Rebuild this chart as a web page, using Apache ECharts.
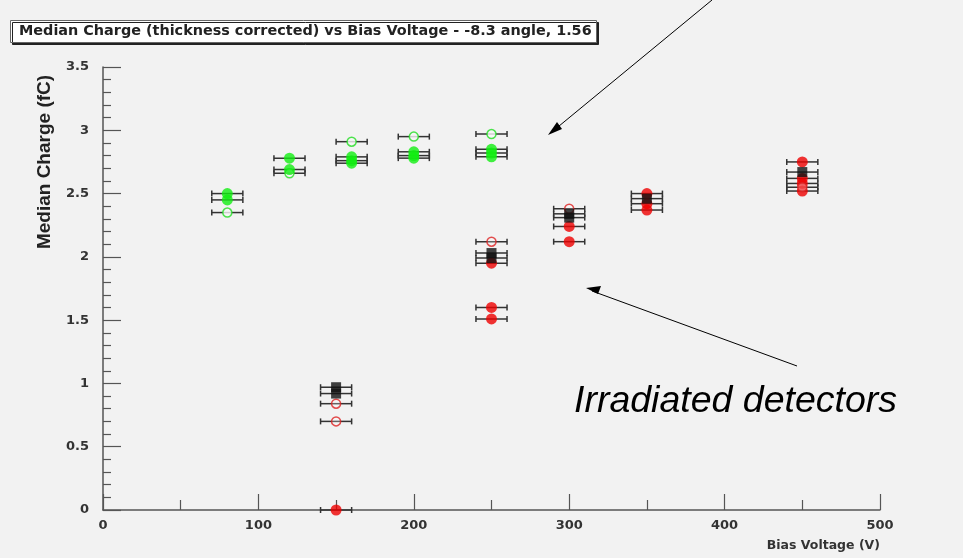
<!DOCTYPE html>
<html>
<head>
<meta charset="utf-8">
<script src="https://cdn.jsdelivr.net/npm/echarts@6/dist/echarts.min.js"></script>
<style>
  html, body { margin: 0; padding: 0; background: #f2f2f2; }
  #main { width: 963px; height: 558px; }
</style>
</head>
<body>
<div id="main"></div>
<script>
// 数据：偏压 (V) 与中值电荷 (fC)
var greenFilled = [[80, 2.50], [80, 2.45], [120, 2.78], [120, 2.69], [160, 2.79], [160, 2.76], [160, 2.74],
    [200, 2.83], [200, 2.80], [200, 2.78], [250, 2.85], [250, 2.82], [250, 2.79]];
var greenOpen = [[80, 2.35], [120, 2.66], [160, 2.91], [200, 2.95], [250, 2.97]];
var redFilled = [[150, 0.0], [250, 1.95], [250, 1.60], [250, 1.51], [300, 2.24], [300, 2.12],
    [350, 2.50], [350, 2.42], [350, 2.37], [450, 2.75], [450, 2.62], [450, 2.58], [450, 2.52]];
var redOpen = [[150, 0.84], [150, 0.70], [250, 2.12], [300, 2.38], [450, 2.55]];
var blackSquares = [[150, 0.97], [150, 0.92], [250, 2.03], [250, 1.99], [300, 2.34], [300, 2.31],
    [350, 2.46], [450, 2.67]];
var biasErr = 10; // 横向误差 ±10 V
var xTicks = [0, 100, 200, 300, 400, 500];
var yTicks = [0, 0.5, 1, 1.5, 2, 2.5, 3, 3.5];

var allPoints = [].concat(greenOpen, greenFilled, redFilled, redOpen, blackSquares);

var myChart = echarts.init(document.getElementById('main'));

var labelFont = {
    color: '#333',
    fontFamily: 'DejaVu Sans',
    fontWeight: 'bold',
    fontSize: 13
};

function errorBar(params, api) {
    var y = api.value(1);
    var p1 = api.coord([api.value(0) - biasErr, y]);
    var p2 = api.coord([api.value(0) + biasErr, y]);
    var cap = 3;
    var style = {stroke: '#333', lineWidth: 1.5};
    return {
        type: 'group',
        children: [
            {type: 'line', shape: {x1: p1[0], y1: p1[1], x2: p2[0], y2: p2[1]}, style: style},
            {type: 'line', shape: {x1: p1[0], y1: p1[1] - cap, x2: p1[0], y2: p1[1] + cap}, style: style},
            {type: 'line', shape: {x1: p2[0], y1: p2[1] - cap, x2: p2[0], y2: p2[1] + cap}, style: style}
        ]
    };
}

var option = {
    backgroundColor: '#f2f2f2',
    animation: false,
    grid: {left: 103, right: 83, top: 67, bottom: 48},
    xAxis: {
        type: 'value',
        min: xTicks[0],
        max: xTicks[xTicks.length - 1],
        interval: 100,
        name: 'Bias Voltage (V)',
        nameLocation: 'end',
        nameGap: 0,
        nameTextStyle: {
            color: '#333', fontFamily: 'DejaVu Sans', fontWeight: 'bold', fontSize: 12.5,
            align: 'right', verticalAlign: 'top', padding: [29, 0, 0, 0]
        },
        axisLine: {lineStyle: {color: '#555', width: 1.5}},
        axisTick: {inside: true, length: 16, lineStyle: {color: '#555', width: 1.2}},
        minorTick: {show: true, splitNumber: 2, length: 10, lineStyle: {color: '#555', width: 1.2}},
        axisLabel: Object.assign({margin: 9}, labelFont),
        splitLine: {show: false}
    },
    yAxis: {
        type: 'value',
        min: yTicks[0],
        max: yTicks[yTicks.length - 1],
        interval: 0.5,
        axisLine: {show: true, lineStyle: {color: '#555', width: 1.5}},
        axisTick: {show: true, inside: true, length: 18, lineStyle: {color: '#555', width: 1.2}},
        minorTick: {show: true, splitNumber: 5, length: 8, lineStyle: {color: '#555', width: 1.2}},
        axisLabel: Object.assign({margin: 14}, labelFont),
        splitLine: {show: false}
    },
    graphic: [
        // 标题框
        {
            type: 'rect', left: 10, top: 20, z: 10,
            shape: {width: 586, height: 22},
            style: {fill: '#fff', stroke: '#666', lineWidth: 1, shadowColor: '#222', shadowOffsetX: 2, shadowOffsetY: 2}
        },
        {
            type: 'text', left: 19, top: 24, z: 11,
            style: {
                text: 'Median Charge (thickness corrected) vs Bias Voltage - -8.3 angle, 1.56',
                fill: '#222', font: 'bold 14.4px "DejaVu Sans"'
            }
        },
        // Y 轴标题
        {
            type: 'text', x: 45, y: 162, rotation: Math.PI / 2, z: 10,
            style: {
                text: 'Median Charge (fC)', fill: '#222', font: 'bold 19px "Liberation Sans"',
                align: 'center', verticalAlign: 'middle'
            }
        },
        // 箭头
        {type: 'line', shape: {x1: 712, y1: 0, x2: 553, y2: 131}, style: {stroke: '#000', lineWidth: 1}},
        {type: 'polygon', shape: {points: [[548, 135], [557, 122], [562, 129]]}, style: {fill: '#000'}},
        {type: 'line', shape: {x1: 797, y1: 366, x2: 592, y2: 291}, style: {stroke: '#000', lineWidth: 1}},
        {type: 'polygon', shape: {points: [[586, 288], [601, 286], [598, 294]]}, style: {fill: '#000'}},
        {
            type: 'text', left: 574, top: 383,
            style: {text: 'Irradiated detectors', fill: '#000', font: 'italic 37.5px "Liberation Sans"'}
        }
    ],
    series: [
        {
            type: 'custom',
            renderItem: errorBar,
            data: allPoints,
            z: 1
        },
        {
            type: 'scatter', data: greenOpen, symbol: 'circle', symbolSize: 9, z: 2,
            itemStyle: {color: '#f6f6f6', borderColor: '#22dd22', borderWidth: 1.5}
        },
        {
            type: 'scatter', data: greenFilled, symbol: 'circle', symbolSize: 11, z: 3,
            itemStyle: {color: '#11ee11'}
        },
        {
            type: 'scatter', data: redFilled, symbol: 'circle', symbolSize: 11, z: 3,
            itemStyle: {color: '#ee0000'}
        },
        {
            type: 'scatter', data: redOpen, symbol: 'circle', symbolSize: 9, z: 4,
            itemStyle: {color: 'rgba(255,255,255,0.3)', borderColor: '#dd2222', borderWidth: 1.5}
        },
        {
            type: 'scatter', data: blackSquares, symbol: 'rect', symbolSize: 10, z: 4,
            itemStyle: {color: '#111'}
        }
    ]
};

myChart.setOption(option);
window.addEventListener('resize', function () {
    myChart.resize();
});
</script>
</body>
</html>
